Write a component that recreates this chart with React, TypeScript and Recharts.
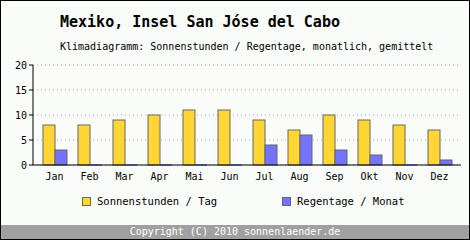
import React from 'react';
import { BarChart, Bar, XAxis, YAxis, CartesianGrid } from 'recharts';

const months = ['Jan', 'Feb', 'Mar', 'Apr', 'Mai', 'Jun', 'Jul', 'Aug', 'Sep', 'Okt', 'Nov', 'Dez'];
const sunHours = [8, 8, 9, 10, 11, 11, 9, 7, 10, 9, 8, 7];
const rainDays = [3, 0, 0, 0, 0, 0, 4, 6, 3, 2, 0, 1];
const yTicks = [0, 5, 10, 15, 20];

const data = months.map((m, i) => ({ month: m, sun: sunHours[i], rain: rainDays[i] }));

const FONT = '"DejaVu Sans Mono", "Liberation Mono", monospace';
const YELLOW = '#ffd633';
const BLUE = '#7373ff';

const RainShape = (props: any) => {
  const { x, y, width, height, value } = props;
  const v = Array.isArray(value) ? value[1] - value[0] : value;
  if (!v) {
    const yy = y + height;
    return <line x1={x} x2={x + width} y1={yy} y2={yy} stroke={BLUE} strokeWidth={1.5} />;
  }
  return <rect x={x} y={y} width={width} height={height} fill={BLUE} stroke="#666" strokeWidth={1} />;
};

const SunShape = (props: any) => {
  const { x, y, width, height } = props;
  return <rect x={x} y={y} width={width} height={height} fill={YELLOW} stroke="#666" strokeWidth={1} />;
};

export default function App() {
  return (
    <div style={{ position: 'absolute', left: 0, top: 0, width: 470, height: 240, background: '#f9fcf9', overflow: 'hidden' }}>
      <div style={{ position: 'absolute', left: 60, top: 13, fontFamily: FONT, fontWeight: 'bold', fontSize: 15, lineHeight: '18px', color: '#000', whiteSpace: 'nowrap' }}>
        Mexiko, Insel San Jóse del Cabo
      </div>
      <div style={{ position: 'absolute', left: 60, top: 41, fontFamily: FONT, fontSize: 10, lineHeight: '12px', color: '#000', whiteSpace: 'nowrap' }}>
        Klimadiagramm: Sonnenstunden / Regentage, monatlich, gemittelt
      </div>
      <div style={{ position: 'absolute', left: 0, top: 0 }}>
        <BarChart width={470} height={240} data={data} margin={{ top: 65, right: 9, left: 0, bottom: 55 }} barGap={0} barSize={12}>
          <CartesianGrid vertical={false} horizontal={true} stroke="#aaa" strokeDasharray="1 3" />
          <XAxis
            dataKey="month"
            axisLine={{ stroke: '#000' }}
            tickLine={false}
            padding={{ left: 4, right: 4 }}
            tick={{ fontFamily: FONT, fontSize: 10, fill: '#000' }}
            height={20}
            interval={0}
          />
          <YAxis
            width={33}
            domain={[0, 20]}
            ticks={yTicks}
            axisLine={{ stroke: '#000' }}
            tickLine={{ stroke: '#000' }}
            tickSize={4}
            tick={{ fontFamily: FONT, fontSize: 10, fill: '#000' }}
          />
          <Bar dataKey="sun" name="Sonnenstunden / Tag" fill={YELLOW} shape={<SunShape />} isAnimationActive={false} />
          <Bar dataKey="rain" name="Regentage / Monat" fill={BLUE} shape={<RainShape />} minPointSize={1} isAnimationActive={false} />
        </BarChart>
      </div>
      <div style={{ position: 'absolute', left: 0, top: 194, width: 470, height: 16, fontFamily: FONT, fontSize: 10.5, color: '#000' }}>
        <div style={{ position: 'absolute', left: 82, top: 3, width: 7, height: 7, background: YELLOW, border: '1px solid #666' }} />
        <div style={{ position: 'absolute', left: 97, top: 0, lineHeight: '14px' }}>Sonnenstunden / Tag</div>
        <div style={{ position: 'absolute', left: 282, top: 3, width: 7, height: 7, background: BLUE, border: '1px solid #666' }} />
        <div style={{ position: 'absolute', left: 297, top: 0, lineHeight: '14px' }}>Regentage / Monat</div>
      </div>
      <div style={{ position: 'absolute', left: 0, top: 225, width: 470, height: 15, background: '#a0a0a0', color: '#fff', fontFamily: FONT, fontSize: 10, lineHeight: '14px', textAlign: 'center' }}>
        Copyright (C) 2010 sonnenlaender.de
      </div>
      <div style={{ position: 'absolute', left: 0, top: 0, width: 470, height: 240, boxSizing: 'border-box', border: '1px solid #000', pointerEvents: 'none' }} />
    </div>
  );
}
